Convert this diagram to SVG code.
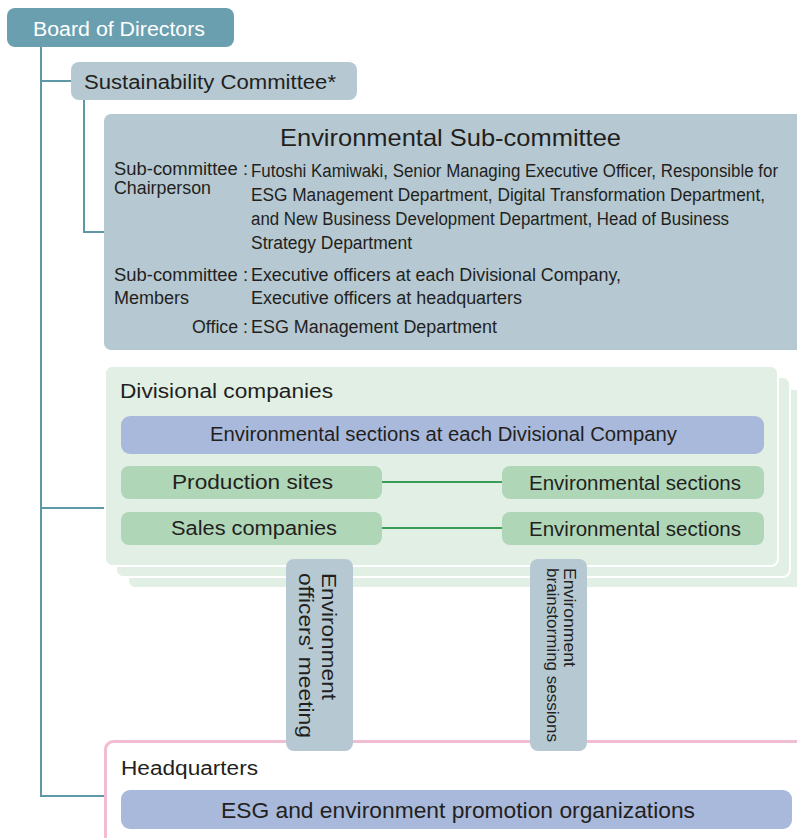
<svg xmlns="http://www.w3.org/2000/svg" width="797" height="838" viewBox="0 0 797 838">
<style>
text{font-family:"Liberation Sans",Arial,sans-serif;fill:#231f20}
.t20{font-size:20px}
.b{font-size:18px}
.conn{stroke:#5e98a6;stroke-width:2;fill:none}
.gl{stroke:#3a9d55;stroke-width:2}
.slate{fill:#b6c9d2}
.blue{fill:#a9b9dc}
.green{fill:#b0d6b8}
.panel{fill:#e2efe4;stroke:#ffffff;stroke-width:2}
</style>
<rect width="797" height="838" fill="#ffffff"/>
<g id="connectors">
<path class="conn" d="M41 47V796H105M41 81H71M41 508H105M84 100V232H104"/>
</g>
<g id="board">
<rect x="7" y="8" width="227" height="39" rx="8" fill="#6a9fb0"/>
<text x="33" y="36" class="t20" style="fill:#ffffff" textLength="172" lengthAdjust="spacingAndGlyphs">Board of Directors</text>
</g>
<g id="sustainability">
<rect x="71" y="62" width="286" height="38" rx="8" class="slate"/>
<text x="84" y="89" class="t20" textLength="252" lengthAdjust="spacingAndGlyphs">Sustainability Committee*</text>
</g>
<g id="subcommittee">
<rect x="104" y="114" width="705" height="236" rx="7" class="slate"/>
<text x="280" y="146" style="font-size:24px" textLength="341" lengthAdjust="spacingAndGlyphs">Environmental Sub-committee</text>
<text x="114" y="175" class="b" textLength="134" lengthAdjust="spacingAndGlyphs">Sub-committee :</text>
<text x="114" y="194" class="b" textLength="97" lengthAdjust="spacingAndGlyphs">Chairperson</text>
<text x="251" y="177" class="b" textLength="527" lengthAdjust="spacingAndGlyphs">Futoshi Kamiwaki, Senior Managing Executive Officer, Responsible for</text>
<text x="251" y="201" class="b" textLength="514" lengthAdjust="spacingAndGlyphs">ESG Management Department, Digital Transformation Department,</text>
<text x="251" y="225" class="b" textLength="478" lengthAdjust="spacingAndGlyphs">and New Business Development Department, Head of Business</text>
<text x="251" y="249" class="b" textLength="161" lengthAdjust="spacingAndGlyphs">Strategy Department</text>
<text x="114" y="281" class="b" textLength="134" lengthAdjust="spacingAndGlyphs">Sub-committee :</text>
<text x="114" y="304" class="b" textLength="75" lengthAdjust="spacingAndGlyphs">Members</text>
<text x="251" y="281" class="b" textLength="370" lengthAdjust="spacingAndGlyphs">Executive officers at each Divisional Company,</text>
<text x="251" y="304" class="b" textLength="271" lengthAdjust="spacingAndGlyphs">Executive officers at headquarters</text>
<text x="192" y="333" class="b" textLength="56" lengthAdjust="spacingAndGlyphs">Office :</text>
<text x="251" y="333" class="b" textLength="246" lengthAdjust="spacingAndGlyphs">ESG Management Department</text>
</g>
<g id="divisional">
<rect x="128" y="389" width="680" height="199" rx="7" class="panel"/>
<rect x="116" y="377" width="674" height="200" rx="7" class="panel"/>
<rect x="105" y="366" width="673" height="200" rx="7" class="panel"/>
<text x="120" y="398" class="t20" textLength="213" lengthAdjust="spacingAndGlyphs">Divisional companies</text>
</g>
<g id="div-env-sections">
<rect x="121" y="416" width="643" height="38" rx="9" class="blue"/>
<text x="210" y="441" class="t20" textLength="467" lengthAdjust="spacingAndGlyphs">Environmental sections at each Divisional Company</text>
</g>
<g id="links">
<line x1="382" y1="482" x2="502" y2="482" class="gl"/>
<line x1="382" y1="528" x2="502" y2="528" class="gl"/>
</g>
<g id="production">
<rect x="121" y="466" width="261" height="33" rx="8" class="green"/>
<text x="172" y="489" class="t20" textLength="161" lengthAdjust="spacingAndGlyphs">Production sites</text>
</g>
<g id="prod-env">
<rect x="502" y="466" width="262" height="33" rx="8" class="green"/>
<text x="529" y="490" class="t20" textLength="212" lengthAdjust="spacingAndGlyphs">Environmental sections</text>
</g>
<g id="sales">
<rect x="121" y="512" width="261" height="33" rx="8" class="green"/>
<text x="171" y="535" class="t20" textLength="166" lengthAdjust="spacingAndGlyphs">Sales companies</text>
</g>
<g id="sales-env">
<rect x="502" y="512" width="262" height="33" rx="8" class="green"/>
<text x="529" y="536" class="t20" textLength="212" lengthAdjust="spacingAndGlyphs">Environmental sections</text>
</g>
<g id="headquarters">
<rect x="105.5" y="741.5" width="710" height="110" rx="8" fill="#ffffff" stroke="#f2bcd3" stroke-width="3"/>
<text x="121" y="775" class="t20" textLength="137" lengthAdjust="spacingAndGlyphs">Headquarters</text>
</g>
<g id="esg-promo">
<rect x="121" y="790" width="671" height="39" rx="9" class="blue"/>
<text x="221" y="818" style="font-size:22px" textLength="474" lengthAdjust="spacingAndGlyphs">ESG and environment promotion organizations</text>
</g>
<g id="officers-meeting">
<rect x="286" y="559" width="67" height="192" rx="8" class="slate"/>
<text transform="translate(322,573) rotate(90)" class="t20" textLength="127" lengthAdjust="spacingAndGlyphs">Environment</text>
<text transform="translate(299,573) rotate(90)" class="t20" textLength="165" lengthAdjust="spacingAndGlyphs">officers' meeting</text>
</g>
<g id="brainstorming">
<rect x="530" y="559" width="57" height="192" rx="8" class="slate"/>
<text transform="translate(564,568) rotate(90)" style="font-size:17px" textLength="99" lengthAdjust="spacingAndGlyphs">Environment</text>
<text transform="translate(547,568) rotate(90)" style="font-size:17px" textLength="174" lengthAdjust="spacingAndGlyphs">brainstorming sessions</text>
</g>
</svg>
